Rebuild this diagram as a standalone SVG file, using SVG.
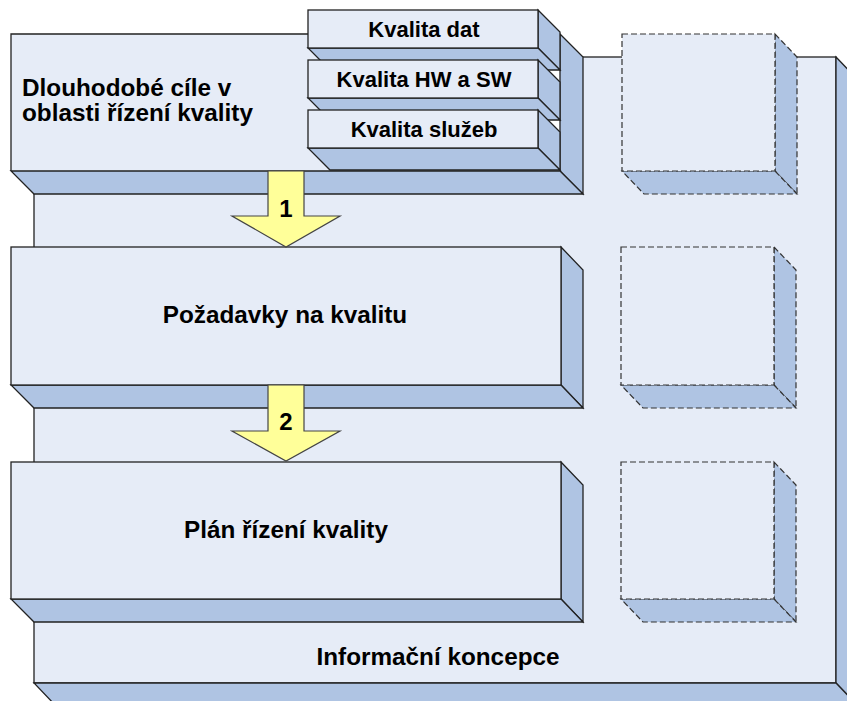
<svg xmlns="http://www.w3.org/2000/svg" width="847" height="701" viewBox="0 0 847 701">
  <style>
    .front { fill: #E6ECF7; stroke: #222; stroke-width: 1.3; }
    .side { fill: #AFC4E3; stroke: #222; stroke-width: 1.3; stroke-linejoin: miter; }
    .fill-only { fill: #E6ECF7; stroke: none; }
    .edge { fill: none; stroke: #222; stroke-width: 1.3; }
    .dash-front { fill: #E6ECF7; stroke: #333; stroke-width: 1.2; stroke-dasharray: 6 3; }
    .dash-side { fill: #AFC4E3; stroke: #333; stroke-width: 1.2; stroke-dasharray: 6 3; }
    .arrow { fill: #FFFF99; stroke: #444; stroke-width: 1.2; }
    text { font-family: "Liberation Sans", Arial, sans-serif; font-weight: bold; fill: #000; }
    .big { font-size: 24.3px; }
    .small { font-size: 22px; }
    .num { font-size: 24px; }
  </style>

  <!-- Outer block: Informační koncepce -->
  <g id="informacni-koncepce">
    <rect class="front" x="34" y="57" width="802" height="626"/>
    <polygon class="side" points="836,57 858,80 858,706 836,683"/>
    <polygon class="side" points="34,683 836,683 858,706 56,706"/>
    <text class="big" x="438" y="665" text-anchor="middle">Informační koncepce</text>
  </g>

  <!-- Empty dashed placeholders on the right -->
  <g id="placeholder-1">
    <polygon class="dash-side" points="775,34 797,57 797,194 775,171"/>
    <polygon class="dash-side" points="622,171 775,171 797,194 644,194"/>
    <rect class="dash-front" x="622" y="34" width="153" height="137"/>
  </g>
  <g id="placeholder-2">
    <polygon class="dash-side" points="774,247 796,270 796,408 774,385"/>
    <polygon class="dash-side" points="621,385 774,385 796,408 643,408"/>
    <rect class="dash-front" x="621" y="247" width="153" height="138"/>
  </g>
  <g id="placeholder-3">
    <polygon class="dash-side" points="774,462 796,485 796,622 774,599"/>
    <polygon class="dash-side" points="621,599 774,599 796,622 643,622"/>
    <rect class="dash-front" x="621" y="462" width="153" height="137"/>
  </g>

  <!-- Dlouhodobé cíle (partly covered by the quality stack) -->
  <g id="dlouhodobe-cile">
    <rect x="538" y="34" width="22" height="137" fill="#FFFFFF"/>
    <rect class="fill-only" x="11" y="34" width="527" height="137"/>
    <path class="edge" d="M308,34 H11 V171"/>
    <polygon class="side" points="560,34 583,57 583,194 560,171"/>
    <polygon class="side" points="11,171 560,171 583,194 34,194"/>
    <text class="big" x="22" y="96">Dlouhodobé cíle v</text>
    <text class="big" x="22" y="121">oblasti řízení kvality</text>
  </g>

  <!-- Stack of quality areas -->
  <g id="kvalita-dat">
    <polygon class="side" points="538,10 560,32 560,70 538,48"/>
    <polygon class="side" points="308,48 538,48 560,70 330,70"/>
    <rect class="front" x="308" y="10" width="230" height="38"/>
    <text class="small" x="424" y="36.5" text-anchor="middle">Kvalita dat</text>
  </g>
  <g id="kvalita-hw-sw">
    <polygon class="side" points="538,60 560,82 560,120 538,98"/>
    <polygon class="side" points="308,98 538,98 560,120 330,120"/>
    <rect class="front" x="308" y="60" width="230" height="38"/>
    <text class="small" x="424" y="86.5" text-anchor="middle">Kvalita HW a SW</text>
  </g>
  <g id="kvalita-sluzeb">
    <polygon class="side" points="538,110 560,132 560,170 538,148"/>
    <polygon class="side" points="308,148 538,148 560,170 330,170"/>
    <rect class="front" x="308" y="110" width="230" height="38"/>
    <text class="small" x="424" y="136.5" text-anchor="middle">Kvalita služeb</text>
  </g>

  <!-- Požadavky na kvalitu -->
  <g id="pozadavky">
    <polygon class="side" points="561,247 583,270 583,408 561,385"/>
    <polygon class="side" points="11,385 561,385 583,408 34,408"/>
    <rect class="front" x="11" y="247" width="550" height="138"/>
    <text class="big" x="285" y="323" text-anchor="middle">Požadavky na kvalitu</text>
  </g>

  <!-- Plán řízení kvality -->
  <g id="plan">
    <polygon class="side" points="561,462 583,485 583,622 561,599"/>
    <polygon class="side" points="11,599 561,599 583,622 34,622"/>
    <rect class="front" x="11" y="462" width="550" height="137"/>
    <text class="big" x="286" y="538" text-anchor="middle">Plán řízení kvality</text>
  </g>

  <!-- Step arrows -->
  <g id="connectors">
    <g id="arrow-1">
      <polygon class="arrow" points="268,171 304,171 304,216 340,216 286,247 232,216 268,216"/>
      <text class="num" x="286" y="217" text-anchor="middle">1</text>
    </g>
    <g id="arrow-2">
      <polygon class="arrow" points="268,385 304,385 304,431 340,431 286,461 232,431 268,431"/>
      <text class="num" x="286" y="430" text-anchor="middle">2</text>
    </g>
  </g>
</svg>
